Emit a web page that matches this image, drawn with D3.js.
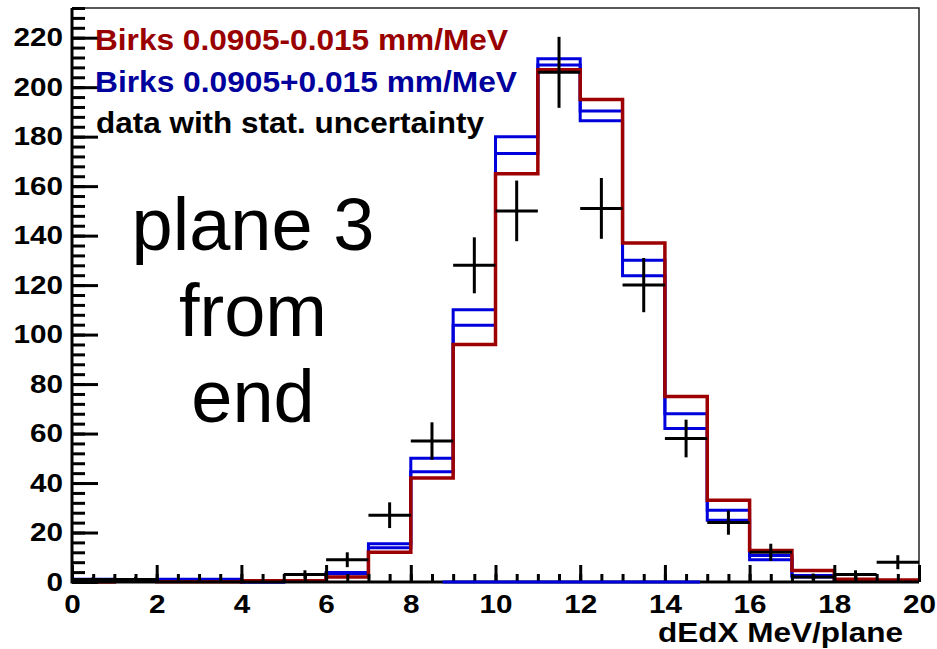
<!DOCTYPE html>
<html>
<head>
<meta charset="utf-8">
<script src="https://cdn.jsdelivr.net/npm/d3@7"></script>
<style>
  body { margin: 0; background: #fff; }
  text { font-family: "Liberation Sans", Arial, Helvetica, sans-serif; }
</style>
</head>
<body>
<svg id="chart" width="937" height="649"></svg>
<script>
'use strict'

// 20 bins of 1 MeV, from 0 to 20
const binEdges = d3.range(0, 21)

// data counts per bin (black crosses, error = sqrt(N))
const dataCounts = [1, 1, 0, 0, 0, 3, 9, 27, 57, 128, 150, 206, 151, 120, 58, 24, 12, 2, 3, 8]

// Birks 0.0905-0.015 mm/MeV (red)
const birksMinus = [0, 0.8, 0.1, 0.1, 0.5, 0.5, 2, 12, 42, 96, 165, 207, 195, 137, 75, 33, 12.7, 4.6, 1.1, 0.8]

// Birks 0.0905+0.015 mm/MeV (blue, upper and lower edge)
const birksPlusHi = [1.1, 0.5, 1.1, 1.1, 0, 0.4, 3.8, 15.5, 50, 110, 180, 211.5, 190.4, 130, 68, 29, 10.7, 2.6, 0.5, 0.3]
const birksPlusLo = [0.9, 0.3, 0.9, 0.9, 0, 0.3, 3.3, 13.8, 44.6, 103.8, 173.2, 209, 186.4, 123.8, 62, 25, 9, 2, 0.3, 0.2]

// stray blue piece lying on the x axis
const blueOnAxis = [8.75, 14.83]

const legendLabels = ['Birks 0.0905-0.015 mm/MeV', 'Birks 0.0905+0.015 mm/MeV', 'data with stat. uncertainty']
const noteLines = ['plane 3', 'from', 'end']
const xTicks = d3.range(0, 21, 2)
const xMinorTicks = d3.range(0, 20.01, 0.5)
const yTicks = d3.range(0, 221, 20)
const yMinorTicks = d3.range(0, 233, 4)
const xTitle = 'dEdX MeV/plane'

const colors = { red: '#9c0000', blue: '#0000dd', redText: '#990000', blueText: '#00009c' }

let margin = { top: 8, right: 18, bottom: 67, left: 72 }
let svgSize = { width: 937, height: 649 }
let graphSize = {
  width: svgSize.width - margin.left - margin.right,
  height: svgSize.height - margin.top - margin.bottom
}

let svg = d3.select('#chart')
let g = svg.append('g')
  .attr('transform', 'translate(' + margin.left + ',' + margin.top + ')')

let xScale = d3.scaleLinear().domain([0, 20]).range([0, graphSize.width])
let yScale = d3.scaleLinear().domain([0, 232]).range([graphSize.height, 0])

// frame (top and right)
g.append('path')
  .attr('d', 'M0,0H' + graphSize.width + 'V' + graphSize.height)
  .attr('fill', 'none')
  .attr('stroke', '#222')
  .attr('stroke-width', 1.5)

drawHistograms()
drawAxes()
drawData()
drawTexts()

function stepPath (values) {
  let pts = values.map((v, i) => [binEdges[i], v])
  pts.push([binEdges[values.length], values[values.length - 1]])
  return d3.line()
    .x(d => xScale(d[0]))
    .y(d => yScale(d[1]))
    .curve(d3.curveStepAfter)(pts)
}

function drawHistograms () {
  ;[birksPlusHi, birksPlusLo].forEach(vals => {
    g.append('path')
      .attr('d', stepPath(vals))
      .attr('fill', 'none')
      .attr('stroke', colors.blue)
      .attr('stroke-width', 3)
  })
  g.append('path')
    .attr('d', stepPath(birksMinus))
    .attr('fill', 'none')
    .attr('stroke', colors.red)
    .attr('stroke-width', 3.5)
}

function drawAxes () {
  let xAxis = g.append('g')
    .attr('class', 'x axis')
    .attr('transform', 'translate(0,' + graphSize.height + ')')
  xAxis.call(d3.axisBottom(xScale).tickValues(xMinorTicks).tickSize(-8).tickSizeOuter(0).tickFormat(''))
  xAxis.append('g').call(d3.axisBottom(xScale).tickValues(xTicks).tickSize(-17).tickSizeOuter(0).tickPadding(13))

  let yAxis = g.append('g').attr('class', 'y axis')
  yAxis.call(d3.axisLeft(yScale).tickValues(yMinorTicks).tickSize(-13).tickSizeOuter(0).tickFormat(''))
  yAxis.append('g').call(d3.axisLeft(yScale).tickValues(yTicks).tickSize(-26).tickSizeOuter(0).tickPadding(9))

  g.selectAll('.axis .domain').remove()
  g.selectAll('.axis line').attr('stroke', '#000').attr('stroke-width', 3)
  g.selectAll('.axis text')
    .attr('fill', '#000')
    .attr('font-size', 25)
    .attr('font-weight', 'bold')
    .attr('font-family', '"Liberation Sans", Arial, sans-serif')
    .attr('textLength', function () { return this.textContent.length * 16.5 })
    .attr('lengthAdjust', 'spacingAndGlyphs')

  // axis lines
  g.append('line')
    .attr('x1', 0).attr('x2', graphSize.width)
    .attr('y1', graphSize.height).attr('y2', graphSize.height)
    .attr('stroke', '#000').attr('stroke-width', 3)
  g.append('line')
    .attr('x1', xScale(blueOnAxis[0])).attr('x2', xScale(blueOnAxis[1]))
    .attr('y1', yScale(0)).attr('y2', yScale(0))
    .attr('stroke', colors.blue).attr('stroke-width', 3)
  g.append('line')
    .attr('x1', 0).attr('x2', 0)
    .attr('y1', 0).attr('y2', graphSize.height + 1.5)
    .attr('stroke', '#000').attr('stroke-width', 3)

  g.append('text')
    .text(xTitle)
    .attr('x', graphSize.width - 16)
    .attr('y', 634)
    .attr('text-anchor', 'end')
    .attr('font-size', 28)
    .attr('font-weight', 'bold')
    .attr('textLength', 245)
    .attr('lengthAdjust', 'spacingAndGlyphs')
}

function drawData () {
  let pts = dataCounts
    .map((c, i) => ({ lo: binEdges[i], hi: binEdges[i + 1], c: c }))
    .filter(d => d.c > 0)
  let cross = g.append('g').attr('stroke', '#000').attr('stroke-width', 3)
  cross.selectAll('.h').data(pts).enter().append('line')
    .attr('x1', d => xScale(d.lo)).attr('x2', d => xScale(d.hi))
    .attr('y1', d => yScale(d.c)).attr('y2', d => yScale(d.c))
  cross.selectAll('.v').data(pts).enter().append('line')
    .attr('x1', d => xScale((d.lo + d.hi) / 2)).attr('x2', d => xScale((d.lo + d.hi) / 2))
    .attr('y1', d => yScale(d.c + Math.sqrt(d.c))).attr('y2', d => yScale(Math.max(0, d.c - Math.sqrt(d.c))))
}

function drawTexts () {
  let legendColors = [colors.redText, colors.blueText, '#000']
  let legendWidths = [413, 422, 388]
  legendLabels.forEach((t, i) => {
    g.append('text')
      .text(t)
      .attr('x', 95 - margin.left + (i === 2 ? 1 : 0))
      .attr('y', 50 - margin.top + i * 41.5)
      .attr('fill', legendColors[i])
      .attr('font-size', 30)
      .attr('font-weight', 'bold')
      .attr('textLength', legendWidths[i])
      .attr('lengthAdjust', 'spacingAndGlyphs')
  })

  noteLines.forEach((t, i) => {
    g.append('text')
      .text(t)
      .attr('x', 253 - margin.left)
      .attr('y', 250 - margin.top + i * 86)
      .attr('text-anchor', 'middle')
      .attr('font-size', 74)
      .attr('fill', '#000')
  })
}
</script>
</body>
</html>
